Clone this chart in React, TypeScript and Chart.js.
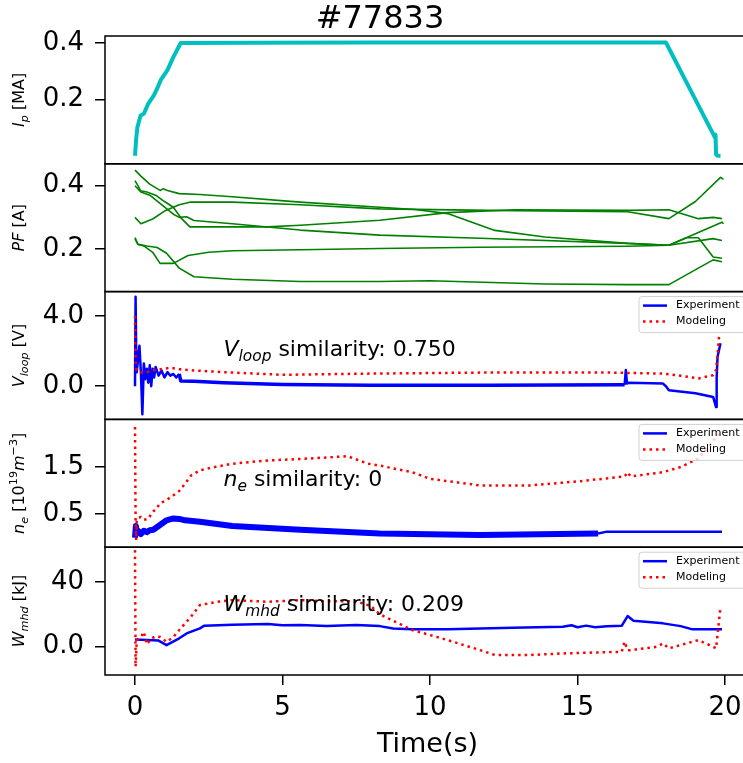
import React, { useEffect, useRef } from 'react';
import { Chart, registerables } from 'chart.js';
Chart.register(...registerables);

// ---------- data ----------
const shotTitle = '#77833';
const xAxisTitle = 'Time(s)';
const legendLabels = ['Experiment', 'Modeling'];

const timeTicks = [0, 5, 10, 15, 20];
const timeTickLabels = ['0', '5', '10', '15', '20'];

const ipTicks = [0.2, 0.4];
const ipTickLabels = ['0.2', '0.4'];
const pfTicks = [0.2, 0.4];
const pfTickLabels = ['0.2', '0.4'];
const vloopTicks = [0, 4];
const vloopTickLabels = ['0.0', '4.0'];
const neTicks = [0.5, 1.5];
const neTickLabels = ['0.5', '1.5'];
const wmhdTicks = [0, 40];
const wmhdTickLabels = ['0.0', '40'];

const similarityVloop = '0.750';
const similarityNe = '0';
const similarityWmhd = '0.209';

// Plasma current
const ipTime = [0, 0.04, 0.08, 0.19, 0.3, 0.45, 0.64, 0.75, 0.87, 1.1, 1.3, 1.55, 4, 8, 12, 16, 18.0, 19.66, 19.68, 19.7, 19.74, 19.85];
const ipVal = [0.0, 0.06, 0.1, 0.143, 0.149, 0.185, 0.214, 0.238, 0.268, 0.304, 0.35, 0.4, 0.401, 0.402, 0.402, 0.402, 0.402, 0.065, 0.075, 0.005, 0.0, 0.0];

// PF coil currents (6 coils)
const pfTimeA = [0, 0.2, 0.5, 0.85, 0.95, 1.1, 1.5, 2.2, 3.3, 5.6, 8.3, 9.5, 10.6, 12.2, 13.9, 16.7, 18.1, 19.9, 19.95];
const pfValA = [0.449, 0.43, 0.405, 0.385, 0.39, 0.385, 0.375, 0.372, 0.365, 0.348, 0.332, 0.325, 0.312, 0.259, 0.238, 0.218, 0.212, 0.285, 0.28];
const pfTimeB = [0, 0.1, 0.19, 0.4, 0.7, 1.0, 1.3, 1.58, 1.86, 3.0, 4.5, 5.6, 8.3, 10.6, 12.9, 16.7, 18.1, 19.1, 19.6, 19.9];
const pfValB = [0.416, 0.4, 0.384, 0.38, 0.37, 0.35, 0.332, 0.296, 0.27, 0.27, 0.27, 0.275, 0.291, 0.315, 0.324, 0.322, 0.324, 0.296, 0.3, 0.296];
const pfTimeC = [0, 0.2, 0.5, 0.9, 1.3, 1.5, 1.75, 2.0, 3.3, 5.6, 8.3, 11.7, 16.7, 18.1, 18.7, 19.1, 19.6, 19.9];
const pfValC = [0.4, 0.38, 0.37, 0.34, 0.31, 0.3, 0.302, 0.29, 0.28, 0.26, 0.244, 0.234, 0.218, 0.212, 0.236, 0.236, 0.175, 0.171];
const pfTimeD = [0, 0.2, 0.6, 1.0, 1.5, 1.86, 3.3, 5.6, 8.3, 12.0, 16.7, 18.1, 19.0, 19.85, 19.95];
const pfValD = [0.3, 0.28, 0.295, 0.32, 0.34, 0.348, 0.348, 0.34, 0.327, 0.322, 0.318, 0.296, 0.35, 0.426, 0.42];
const pfTimeE = [0, 0.1, 0.3, 0.6, 0.85, 1.3, 1.8, 2.5, 3.3, 5.6, 8.3, 11.7, 16.7, 18.1, 19.6, 19.9];
const pfValE = [0.232, 0.215, 0.21, 0.19, 0.155, 0.155, 0.18, 0.19, 0.195, 0.198, 0.202, 0.206, 0.209, 0.212, 0.233, 0.227];
const pfTimeF = [0, 0.1, 0.4, 0.75, 1.07, 1.5, 2.0, 3.3, 5.6, 8.3, 10.0, 13.9, 16.7, 18.1, 19.6, 19.9];
const pfValF = [0.236, 0.215, 0.21, 0.205, 0.187, 0.14, 0.113, 0.105, 0.098, 0.098, 0.1, 0.09, 0.088, 0.088, 0.166, 0.16];

// Loop voltage
const vloopExpTime = [0, 0.02, 0.04, 0.06, 0.1, 0.15, 0.2, 0.25, 0.3, 0.35, 0.4, 0.45, 0.5, 0.55, 0.6, 0.65, 0.7, 0.8, 0.9, 1.0, 1.1, 1.2, 1.3, 1.4, 1.5, 1.55, 2, 3, 5, 8, 12, 16.6, 16.64, 16.68, 16.75, 17.9, 18.0, 18.1, 19.0, 19.6, 19.7, 19.72, 19.75, 19.85];
const vloopExpVal = [0, 5.1, 2.0, 0.8, 1.5, 2.3, 0.8, -1.6, 1.3, 0.4, 1.0, 0.2, 1.2, 0.0, 1.0, 0.5, 1.1, 0.6, 0.9, 0.5, 0.8, 0.6, 0.7, 0.5, 0.7, 0.3, 0.28, 0.2, 0.1, 0.05, 0.05, 0.08, 0.92, 0.15, 0.2, 0.15, 0.0, -0.23, -0.4, -0.61, -1.19, 0.5, 1.68, 2.45];
const vloopModTime = [0, 0.01, 0.02, 0.04, 0.06, 0.1, 0.2, 0.4, 0.6, 0.8, 1.0, 1.2, 1.4, 1.6, 2.0, 3, 5, 8, 12, 16, 17.9, 18.5, 19.1, 19.6, 19.7, 19.75, 19.8];
const vloopModVal = [4.0, 2.5, 1.5, 1.2, 0.9, 0.85, 0.8, 0.8, 0.9, 0.95, 1.0, 1.05, 1.0, 0.95, 0.9, 0.8, 0.65, 0.72, 0.78, 0.78, 0.72, 0.6, 0.44, 0.63, 0.92, 1.8, 2.83];

// Electron density
const neExpTime = [0, 0.03, 0.06, 0.1, 0.2, 0.3, 0.4, 0.5, 0.62, 0.8, 1.07, 1.3, 1.5, 1.7, 2.2, 3.3, 5.6, 8.3, 11.7, 15.7, 16.0, 19.9];
const neExpVal = [0.0, 0.25, 0.1, 0.15, 0.08, 0.15, 0.12, 0.16, 0.17, 0.25, 0.37, 0.41, 0.4, 0.37, 0.34, 0.25, 0.17, 0.09, 0.06, 0.09, 0.13, 0.13];
const neModTime = [0, 0.02, 0.04, 0.06, 0.1, 0.2, 0.3, 0.45, 0.6, 0.7, 0.85, 1.07, 1.3, 1.5, 1.7, 1.9, 2.2, 2.7, 3.3, 4.5, 5.6, 6.7, 7.2, 7.6, 7.9, 8.3, 9.4, 10.0, 11.1, 11.7, 13.4, 15.1, 16.6, 16.7, 16.8, 17.9, 18.5, 19.1, 19.9];
const neModVal = [2.35, 0.4, -0.05, 0.35, 0.42, 0.44, 0.38, 0.4, 0.55, 0.6, 0.73, 0.8, 0.9, 0.99, 1.15, 1.32, 1.43, 1.5, 1.57, 1.64, 1.67, 1.71, 1.73, 1.64, 1.57, 1.53, 1.39, 1.25, 1.16, 1.11, 1.11, 1.2, 1.3, 1.39, 1.3, 1.39, 1.5, 1.68, 2.28];

// Stored energy
const wmhdExpTime = [0, 0.4, 0.8, 1.07, 1.5, 1.75, 2.2, 2.35, 3.3, 4.5, 5.0, 5.6, 6.5, 7.5, 8.3, 8.75, 9.4, 10.6, 12.8, 14.5, 14.8, 15.0, 15.3, 15.6, 16.0, 16.5, 16.7, 16.9, 17.9, 18.5, 18.9, 19.9];
const wmhdExpVal = [4.5, 4.2, 3.8, 1.0, 5.2, 8.2, 11.3, 13.0, 13.5, 14.0, 13.2, 13.4, 12.8, 13.4, 12.7, 11.3, 10.8, 10.8, 11.7, 12.3, 13.2, 12.0, 13.0, 12.0, 12.6, 12.9, 18.9, 16.0, 14.4, 12.7, 10.7, 10.7];
const wmhdModTime = [0, 0.02, 0.06, 0.2, 0.3, 0.4, 0.55, 0.7, 0.85, 1.07, 1.3, 1.5, 1.9, 2.2, 2.8, 3.3, 4.5, 5.6, 6.5, 7.5, 8.0, 8.3, 9.4, 10.6, 11.7, 12.2, 13.4, 14.5, 16.5, 16.6, 16.7, 16.8, 17.7, 17.9, 18.1, 19.1, 19.6, 19.7, 19.85];
const wmhdModVal = [59.5, -12.3, 4, 6, 9.2, 1.5, 5, 6.5, 6, 3, 6, 10.3, 18.5, 25.7, 27.7, 28.7, 27.7, 28.7, 28, 28, 25, 20, 10.3, 4.1, -2.1, -5.1, -5.1, -4.1, -3.1, 3.1, -2.1, -2.1, 0, 2.1, -1, 4.1, 0, -1, 24.6];

// ---------- layout / style ----------
const CW = 760, CH = 763;
const AX_LEFT = 105;
const RIGHT_PAD = 10;
const PANEL_TOP = 36, PANEL_H = 127.8;
const X_MIN = -1.017, X_MAX = 20.85;
const FAM = '"DejaVu Sans", sans-serif';
const TICK_FONT = 26;
const BLUE = '#0000ff', RED = '#ff0000', GREEN = '#008000', CYAN = '#00bfbf';

type Part = { t: string; it?: boolean; sub?: boolean; sup?: boolean };

const fontOf = (p: Part, size: number) => {
  const s = p.sub || p.sup ? size * 0.7 : size;
  return `${p.it ? 'italic ' : ''}${s}px ${FAM}`;
};

function richWidth(ctx: CanvasRenderingContext2D, parts: Part[], size: number) {
  let w = 0;
  for (const p of parts) {
    ctx.font = fontOf(p, size);
    w += ctx.measureText(p.t).width;
  }
  return w;
}

function drawRich(ctx: CanvasRenderingContext2D, parts: Part[], x: number, y: number, size: number) {
  ctx.textAlign = 'left';
  ctx.textBaseline = 'alphabetic';
  let cx = x;
  for (const p of parts) {
    ctx.font = fontOf(p, size);
    const dy = p.sub ? size * 0.22 : p.sup ? -size * 0.42 : 0;
    ctx.fillText(p.t, cx, y + dy);
    cx += ctx.measureText(p.t).width;
  }
}

const pts = (t: number[], v: number[]) => t.map((x, i) => ({ x, y: v[i] }));

const yLabels: Part[][] = [
  [{ t: 'I', it: true }, { t: 'p', it: true, sub: true }, { t: ' [MA]' }],
  [{ t: 'PF', it: true }, { t: ' [A]' }],
  [{ t: 'V', it: true }, { t: 'loop', it: true, sub: true }, { t: ' [V]' }],
  [{ t: 'n', it: true }, { t: 'e', it: true, sub: true }, { t: ' [10' }, { t: '19', sup: true }, { t: 'm', it: true }, { t: '\u22123', sup: true }, { t: ']' }],
  [{ t: 'W', it: true }, { t: 'mhd', it: true, sub: true }, { t: ' [kJ]' }],
];

const annotations: (null | { parts: Part[]; x: number; y: number })[] = [
  null,
  null,
  { parts: [{ t: 'V', it: true }, { t: 'loop', it: true, sub: true }, { t: ' similarity: ' + similarityVloop }], x: 3, y: 1.72 },
  { parts: [{ t: 'n', it: true }, { t: 'e', it: true, sub: true }, { t: ' similarity: ' + similarityNe }], x: 3, y: 1.09 },
  { parts: [{ t: 'W', it: true }, { t: 'mhd', it: true, sub: true }, { t: ' similarity: ' + similarityWmhd }], x: 3, y: 22 },
];

function makePlugin(i: number, hasLegend: boolean) {
  return {
    id: 'deco' + i,
    afterDraw(chart: any) {
      const ctx: CanvasRenderingContext2D = chart.ctx;
      const ca = chart.chartArea;
      ctx.save();
      // frame
      ctx.strokeStyle = '#000';
      ctx.lineWidth = 1.5;
      ctx.strokeRect(ca.left, ca.top, ca.right - ca.left, ca.bottom - ca.top);
      ctx.fillStyle = '#000';
      // y label (rotated)
      const lab = yLabels[i];
      const lw = richWidth(ctx, lab, 16);
      ctx.save();
      ctx.translate(24, (ca.top + ca.bottom) / 2);
      ctx.rotate(-Math.PI / 2);
      drawRich(ctx, lab, -lw / 2, 0, 16);
      ctx.restore();
      // annotation
      const an = annotations[i];
      if (an) {
        const px = chart.scales.x.getPixelForValue(an.x);
        const py = chart.scales.y.getPixelForValue(an.y);
        drawRich(ctx, an.parts, px, py, 22);
      }
      // legend
      if (hasLegend) {
        const bx = 639, by = ca.top + 5, bw = 110, bh = 36;
        ctx.beginPath();
        const r = 3;
        ctx.moveTo(bx + r, by);
        ctx.lineTo(bx + bw - r, by);
        ctx.arcTo(bx + bw, by, bx + bw, by + r, r);
        ctx.lineTo(bx + bw, by + bh - r);
        ctx.arcTo(bx + bw, by + bh, bx + bw - r, by + bh, r);
        ctx.lineTo(bx + r, by + bh);
        ctx.arcTo(bx, by + bh, bx, by + bh - r, r);
        ctx.lineTo(bx, by + r);
        ctx.arcTo(bx, by, bx + r, by, r);
        ctx.closePath();
        ctx.fillStyle = 'rgba(255,255,255,0.8)';
        ctx.fill();
        ctx.strokeStyle = '#d0d0d0';
        ctx.lineWidth = 1;
        ctx.stroke();
        const r1 = by + 9, r2 = by + 25;
        ctx.lineWidth = 2.5;
        ctx.strokeStyle = BLUE;
        ctx.setLineDash([]);
        ctx.beginPath(); ctx.moveTo(643, r1); ctx.lineTo(667, r1); ctx.stroke();
        ctx.strokeStyle = RED;
        ctx.setLineDash([2.5, 4]);
        ctx.beginPath(); ctx.moveTo(643, r2); ctx.lineTo(667, r2); ctx.stroke();
        ctx.setLineDash([]);
        ctx.fillStyle = '#000';
        ctx.font = `11px ${FAM}`;
        ctx.textAlign = 'left';
        ctx.textBaseline = 'middle';
        ctx.fillText(legendLabels[0], 676, r1);
        ctx.fillText(legendLabels[1], 676, r2);
      }
      // title / x label
      ctx.fillStyle = '#000';
      if (i === 0) {
        ctx.font = `32px ${FAM}`;
        ctx.textAlign = 'center';
        ctx.textBaseline = 'alphabetic';
        ctx.fillText(shotTitle, 380, 28);
      }
      if (i === 4) {
        ctx.font = `27px ${FAM}`;
        ctx.textAlign = 'center';
        ctx.textBaseline = 'alphabetic';
        ctx.fillText(xAxisTitle, (ca.left + ca.right) / 2, 752);
      }
      ctx.restore();
    },
  };
}

type PanelDef = {
  datasets: any[];
  yMin: number;
  yMax: number;
  ticks: number[];
  labels: string[];
  legend: boolean;
};

const expStyle = (width: number, noisyFrom: number, noisyTo: number, noisyWidth: number) => ({
  borderColor: BLUE,
  borderWidth: width,
  order: 1,
  segment: {
    borderWidth: (c: any) => (c.p0.parsed.x >= noisyFrom && c.p1.parsed.x <= noisyTo ? noisyWidth : width),
  },
});

const modStyle = {
  borderColor: RED,
  borderWidth: 2.5,
  borderDash: [2.5, 4],
  order: 0,
};

const panels: PanelDef[] = [
  {
    datasets: [{ data: pts(ipTime, ipVal), borderColor: CYAN, borderWidth: 4 }],
    yMin: -0.0286, yMax: 0.425, ticks: ipTicks, labels: ipTickLabels, legend: false,
  },
  {
    datasets: [
      [pfTimeA, pfValA], [pfTimeB, pfValB], [pfTimeC, pfValC],
      [pfTimeD, pfValD], [pfTimeE, pfValE], [pfTimeF, pfValF],
    ].map(([t, v]) => ({ data: pts(t, v), borderColor: GREEN, borderWidth: 1.6 })),
    yMin: 0.066, yMax: 0.469, ticks: pfTicks, labels: pfTickLabels, legend: false,
  },
  {
    datasets: [
      { label: legendLabels[0], data: pts(vloopExpTime, vloopExpVal), ...expStyle(2.5, 1.5, 16.6, 3.5) },
      { label: legendLabels[1], data: pts(vloopModTime, vloopModVal), ...modStyle },
    ],
    yMin: -1.89, yMax: 5.39, ticks: vloopTicks, labels: vloopTickLabels, legend: true,
  },
  {
    datasets: [
      { label: legendLabels[0], data: pts(neExpTime, neExpVal), ...expStyle(2.5, 0, 15.8, 6) },
      { label: legendLabels[1], data: pts(neModTime, neModVal), ...modStyle },
    ],
    yMin: -0.2, yMax: 2.51, ticks: neTicks, labels: neTickLabels, legend: true,
  },
  {
    datasets: [
      { label: legendLabels[0], data: pts(wmhdExpTime, wmhdExpVal), ...expStyle(2.5, 99, 99, 2.5) },
      { label: legendLabels[1], data: pts(wmhdModTime, wmhdModVal), ...modStyle },
    ],
    yMin: -17.4, yMax: 61.3, ticks: wmhdTicks, labels: wmhdTickLabels, legend: true,
  },
];

function buildConfig(i: number): any {
  const p = panels[i];
  const top = PANEL_TOP + i * PANEL_H;
  const bottom = top + PANEL_H;
  const isBottom = i === panels.length - 1;
  const xScale: any = {
    type: 'linear',
    min: X_MIN,
    max: X_MAX,
    display: isBottom,
    afterBuildTicks: (s: any) => { s.ticks = timeTicks.map((v) => ({ value: v })); },
    border: { display: false },
    grid: { display: true, drawOnChartArea: false, drawTicks: true, tickLength: 10, tickWidth: 1.5, tickColor: '#000', color: '#000', lineWidth: 1.5 },
    ticks: {
      color: '#000',
      font: { family: FAM, size: TICK_FONT },
      padding: 8,
      maxRotation: 0,
      autoSkip: false,
      callback: (v: number) => { const k = timeTicks.indexOf(v); return k >= 0 ? timeTickLabels[k] : ''; },
    },
  };
  if (isBottom) {
    xScale.afterFit = (s: any) => { s.height = CH - (PANEL_TOP + 5 * PANEL_H); };
  }
  return {
    type: 'line',
    data: {
      datasets: p.datasets.map((d) => ({ pointRadius: 0, tension: 0, fill: false, borderJoinStyle: 'round', ...d })),
    },
    options: {
      animation: false,
      responsive: false,
      events: [],
      layout: {
        padding: { left: 0, right: RIGHT_PAD, top, bottom: isBottom ? 0 : CH - bottom },
      },
      plugins: { legend: { display: false }, tooltip: { enabled: false }, title: { display: false } },
      scales: {
        x: xScale,
        y: {
          type: 'linear',
          min: p.yMin,
          max: p.yMax,
          afterFit: (s: any) => { s.width = AX_LEFT; },
          afterBuildTicks: (s: any) => { s.ticks = p.ticks.map((v) => ({ value: v })); },
          border: { display: false },
          grid: { display: true, drawOnChartArea: false, drawTicks: true, tickLength: 10, tickWidth: 1.5, tickColor: '#000', color: '#000', lineWidth: 1.5 },
          ticks: {
            color: '#000',
            font: { family: FAM, size: TICK_FONT },
            padding: 11,
            autoSkip: false,
            callback: (v: number) => { const k = p.ticks.indexOf(v); return k >= 0 ? p.labels[k] : ''; },
          },
        },
      },
    },
    plugins: [makePlugin(i, p.legend)],
  };
}

export default function App() {
  const refs = useRef<(HTMLCanvasElement | null)[]>([]);
  useEffect(() => {
    const charts = panels.map((_, i) => new Chart(refs.current[i] as HTMLCanvasElement, buildConfig(i)));
    return () => charts.forEach((c) => c.destroy());
  }, []);
  return (
    <div style={{ position: 'fixed', left: 0, top: 0, width: 743, height: 763, overflow: 'hidden', background: '#fff' }}>
      {panels.map((_, i) => (
        <canvas
          key={i}
          ref={(el) => { refs.current[i] = el; }}
          width={CW}
          height={CH}
          style={{ position: 'absolute', left: 0, top: 0, width: CW, height: CH }}
        />
      ))}
    </div>
  );
}
